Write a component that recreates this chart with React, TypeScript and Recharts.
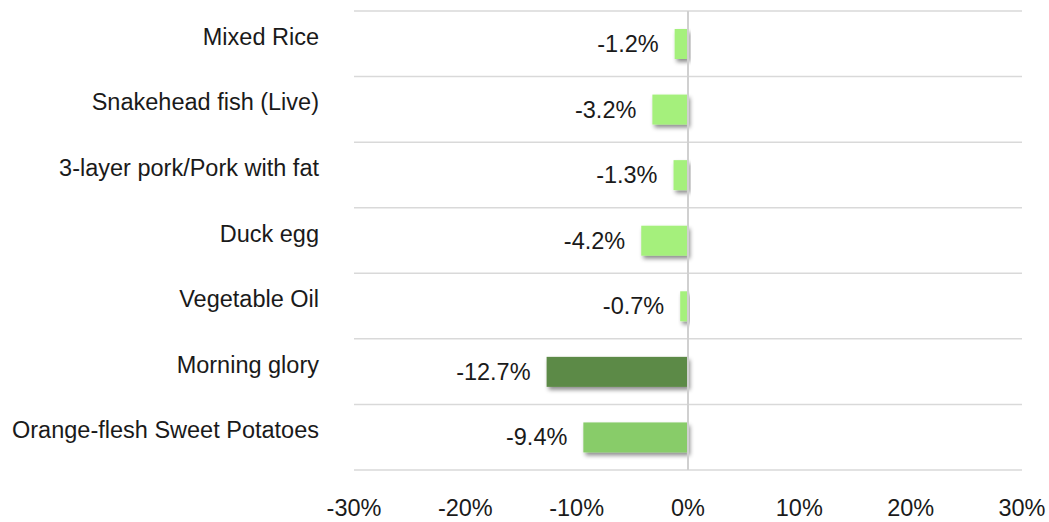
import { Bar, BarChart, CartesianGrid, Cell, LabelList, ReferenceLine, XAxis, YAxis } from "recharts";

const categories = [
  "Mixed Rice",
  "Snakehead fish (Live)",
  "3-layer pork/Pork with fat",
  "Duck egg",
  "Vegetable Oil",
  "Morning glory",
  "Orange-flesh Sweet Potatoes",
];
const changes = [-1.2, -3.2, -1.3, -4.2, -0.7, -12.7, -9.4];
const xTicks = [-30, -20, -10, 0, 10, 20, 30];

const LIGHT = "#a5f07c";
const DARK = "#5b8a46";
const MID = "#88cc69";
const barColors = [LIGHT, LIGHT, LIGHT, LIGHT, LIGHT, DARK, MID];

const data = categories.map((name, i) => ({ name, value: changes[i] }));

const FONT = "'Liberation Sans', Arial, sans-serif";
const W = 1049;
const H = 522;
const TOP = 11;
const PLOT_H = 459;

function CategoryTick(props: any) {
  const { x, y, payload } = props;
  return (
    <text x={x - 27} y={y + 1} textAnchor="end" fontFamily={FONT} fontSize={23.5} fill="#1a1a1a">
      {payload.value}
    </text>
  );
}

function ValueTick(props: any) {
  const { x, y, payload } = props;
  return (
    <text x={x} y={y + 38} textAnchor="middle" fontFamily={FONT} fontSize={23.5} fill="#1a1a1a">
      {`${payload.value}%`}
    </text>
  );
}

function ShadowBar(props: any) {
  const { x, y, width, height, fill } = props;
  const left = width < 0 ? x + width : x;
  return <rect x={left} y={y} width={Math.abs(width)} height={height} fill={fill} filter="url(#barShadow)" />;
}

function ValueLabel(props: any) {
  const { x, y, width, height, value } = props;
  const left = Math.min(x, x + width);
  return (
    <text x={left - 16} y={y + height / 2 + 8} textAnchor="end" fontFamily={FONT} fontSize={23.5} fill="#1a1a1a">
      {`${Number(value).toFixed(1)}%`}
    </text>
  );
}

export default function App() {
  return (
    <div style={{ position: "absolute", left: 0, top: 0, background: "#fff" }}>
      <BarChart
        width={W}
        height={H}
        data={data}
        layout="vertical"
        margin={{ top: TOP, right: 27, bottom: 0, left: 0 }}
        barCategoryGap={0}
      >
        <defs>
          <filter id="barShadow" x="-20%" y="-20%" width="140%" height="160%">
            <feDropShadow dx="2" dy="3" stdDeviation="2" floodColor="#000" floodOpacity="0.45" />
          </filter>
        </defs>
        <CartesianGrid
          vertical={false}
          stroke="#d9d9d9"
          strokeWidth={1.5}
          horizontalCoordinatesGenerator={() =>
            categories.map((_, i) => TOP + (PLOT_H * i) / categories.length).concat(TOP + PLOT_H)
          }
        />
        <XAxis
          type="number"
          domain={[-30, 30]}
          ticks={xTicks}
          axisLine={false}
          tickLine={false}
          tick={<ValueTick />}
          height={52}
          interval={0}
        />
        <YAxis
          type="category"
          dataKey="name"
          width={354}
          axisLine={false}
          tickLine={false}
          tick={<CategoryTick />}
          interval={0}
        />
        <ReferenceLine x={0} stroke="#d0d0d0" strokeWidth={2} />
        <Bar dataKey="value" barSize={30} shape={<ShadowBar />} isAnimationActive={false}>
          {data.map((d, i) => (
            <Cell key={d.name} fill={barColors[i]} />
          ))}
          <LabelList dataKey="value" content={<ValueLabel />} />
        </Bar>
      </BarChart>
    </div>
  );
}
